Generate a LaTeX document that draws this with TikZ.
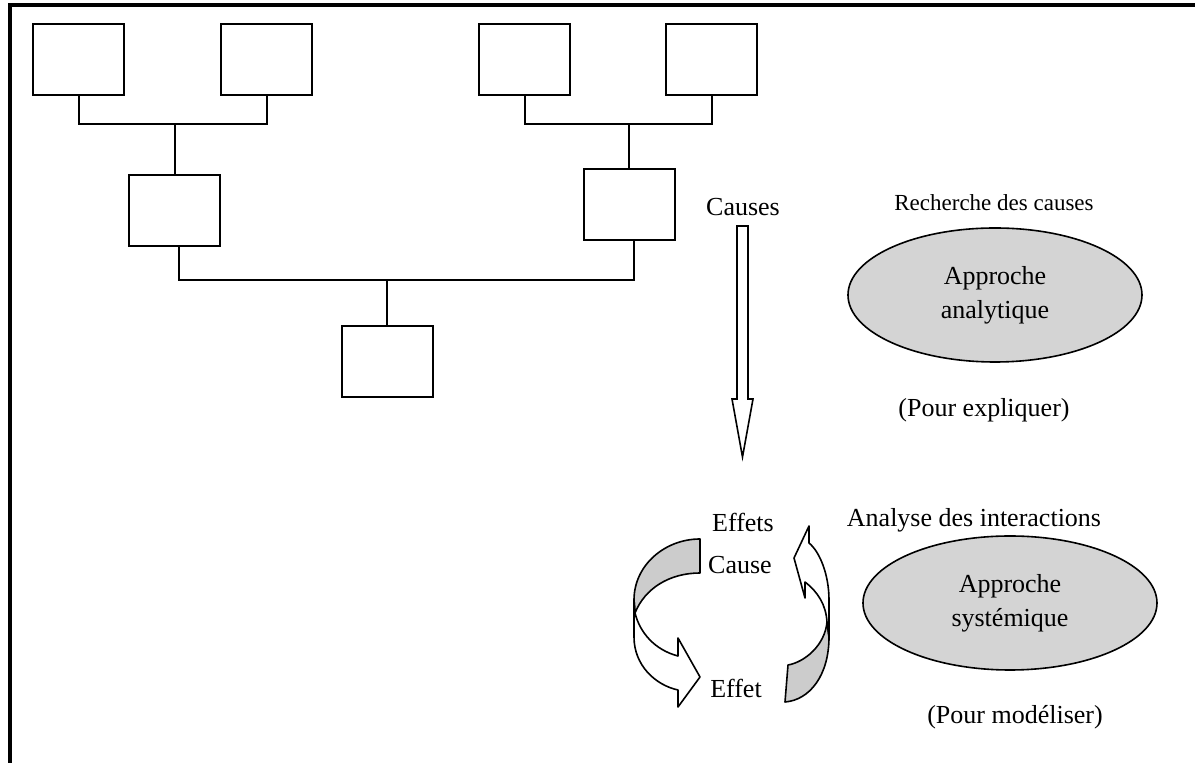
\documentclass[tikz,border=0pt]{standalone}
\usepackage{fontspec}
\setmainfont{Liberation Serif}
\usetikzlibrary{shapes.geometric}
\tikzset{
  box/.style={draw, line width=1pt, minimum width=45.5pt, minimum height=35.5pt, inner sep=0pt},
  oval/.style={ellipse, draw, line width=0.8pt, fill=black!17, minimum width=147pt, minimum height=67pt, inner sep=0pt, align=center, font=\fontsize{13}{17}\selectfont},
  lbl/.style={font=\fontsize{13}{16}\selectfont},
  wire/.style={line width=1pt},
  band/.style={draw, line width=0.8pt, line join=round}
}
\begin{document}
\begin{tikzpicture}[x=0.5pt, y=-0.5pt]
      \useasboundingbox (0,0) rectangle (1195,763);
      \draw[line width=2pt] (1195,5) -- (9.5,5) -- (9.5,763);
      \draw
        (78.5,59.5) node[box] (b1){}
        (266.5,59.5) node[box] (b2){}
        (524.5,59.5) node[box] (b3){}
        (711.5,59.5) node[box] (b4){}
        (174.5,210.5) node[box] (b5){}
        (629.5,204.5) node[box] (b6){}
        (387.5,362) node[box] (b7){};
      \coordinate (j1) at (175,124);
      \coordinate (j2) at (629,124);
      \coordinate (j3) at (387,280);
      \begin{scope}[wire]
        \draw (b1.south) |- (j1) -| (b2.south);
        \draw (b3.south) |- (j2) -| (b4.south);
        \draw (j1) -- (j1 |- b5.north);
        \draw (j2) -- (j2 |- b6.north);
        \draw ([xshift=2pt]b5.south) |- (j3) -| ([xshift=2pt]b6.south);
        \draw (j3) -- (j3 |- b7.north);
      \end{scope}
      \draw
        (743,207) node[lbl] (causes){Causes}
        (743,522) node[lbl] (effets){Effets}
        (740,565) node[lbl] (cause){Cause}
        (736,688) node[lbl] (effet){Effet}
        (994,203) node[font=\fontsize{11.5}{14}\selectfont] (recherche){Recherche des causes}
        (995,295) node[oval] (analytique){Approche\\analytique}
        (984,410) node[lbl] (expliquer){(Pour expliquer)}
        (974,520) node[lbl] (interactions){Analyse des interactions}
        (1010,603) node[oval] (systemique){Approche\\systémique}
        (1015,717) node[lbl] (modeliser){(Pour modéliser)};
      \coordinate (atop) at (742.5,226);
      \coordinate (atip) at (742.5,457);
      \draw[line width=0.8pt] (atop) ++(-5.5,0) -- ++(11,0) -- ++(0,173) -- ++(5,0) -- (atip) -- ++(-10.5,-58) -- ++(5,0) -- cycle;
      \draw[band, fill=black!20] (700,539) .. controls (665,539) and (634,565) .. (634,600) -- (635,613) .. controls (645,588) and (670,573) .. (700,573) -- cycle;
      \draw[band, fill=white] (634,600) -- (634,637) .. controls (634,665) and (655,685) .. (678,690) -- (678,707) -- (700,677) -- (678,638) -- (678,656) .. controls (655,650) and (640,633) .. (635,613) -- cycle;
      \draw[band, fill=black!20] (785,702) .. controls (810,700) and (829,675) .. (829,637) -- (827,622) .. controls (825,645) and (805,662) .. (788,665) -- cycle;
      \draw[band, fill=white] (829,637) -- (829,600) .. controls (829,575) and (820,552) .. (809,543) -- (809,526) -- (794,558) -- (805,598) -- (805,582) .. controls (818,592) and (826,605) .. (827,622) -- cycle;
    \end{tikzpicture}
\end{document}
